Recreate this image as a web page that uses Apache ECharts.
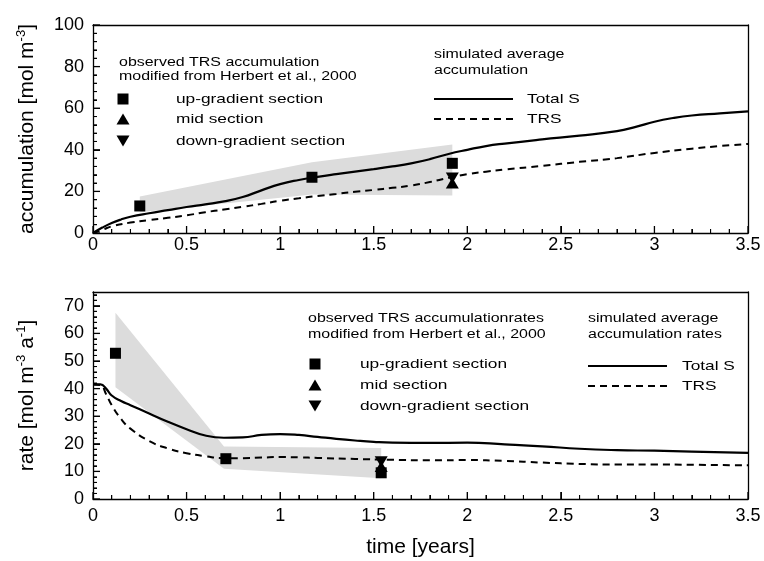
<!DOCTYPE html>
<html><head><meta charset="utf-8">
<script src="https://cdn.jsdelivr.net/npm/echarts@6/dist/echarts.min.js"></script>
<style>html,body{margin:0;padding:0;background:#fff}#c{width:764px;height:561px}</style>
</head><body><div id="c"></div>
<script>
// ---------- data ----------
const xTickValues = [0, 0.5, 1, 1.5, 2, 2.5, 3, 3.5];
const accTicks = [0, 20, 40, 60, 80, 100];
const rateTicks = [0, 10, 20, 30, 40, 50, 60, 70];

// top panel: accumulation [mol m-3]
const accTotalS = [[0,0],[0.05,2.6],[0.1,4.8],[0.15,6.5],[0.2,7.8],[0.3,9.5],[0.4,11],[0.5,12.5],[0.6,13.8],[0.7,15.2],[0.8,17.3],[0.9,20.5],[1.0,23.5],[1.1,25.5],[1.2,27],[1.3,28.3],[1.4,29.5],[1.5,30.7],[1.6,32],[1.7,33.5],[1.8,35.5],[1.9,38],[2.0,40],[2.1,41.8],[2.2,43],[2.4,45],[2.6,46.8],[2.8,49],[2.9,51],[3.0,53.5],[3.1,55.3],[3.2,56.5],[3.35,57.5],[3.5,58.5]];
const accTRS = [[0,0],[0.05,1.5],[0.1,3.2],[0.2,5],[0.3,6.2],[0.4,7.3],[0.5,8.5],[0.6,10],[0.7,11.3],[0.8,12.6],[0.9,14],[1.0,15.5],[1.1,16.7],[1.2,17.8],[1.3,18.8],[1.4,19.8],[1.5,20.7],[1.6,21.7],[1.7,22.8],[1.8,24.5],[1.9,26.5],[2.0,28.3],[2.1,29.5],[2.2,30.5],[2.4,32.3],[2.6,34.2],[2.8,36],[3.0,38.5],[3.2,40.5],[3.35,41.8],[3.5,42.8]];
const accUp = [[0.25,13],[1.17,26.8],[1.92,33.5]];
const accMid = [[1.92,24]];
const accDown = [[1.92,26.5]];
const accBandUpper = [[0.25,17.5],[1.17,34],[1.92,42.5]];
const accBandLower = [[0.25,10],[1.17,18.5],[1.92,18]];

// bottom panel: rate [mol m-3 a-1]
const rateTotalS = [[0,41.5],[0.04,41.5],[0.07,40],[0.1,37.5],[0.15,35.5],[0.2,34],[0.3,31],[0.4,28],[0.5,25.3],[0.6,23],[0.7,22.2],[0.8,22.3],[0.9,23.2],[1.0,23.5],[1.1,23.2],[1.2,22.5],[1.3,21.8],[1.4,21.2],[1.5,20.7],[1.6,20.4],[1.8,20.3],[2.0,20.4],[2.2,19.8],[2.4,19.1],[2.6,18.2],[2.8,17.7],[3.0,17.5],[3.2,17.2],[3.5,16.7]];
const rateTRS = [[0,41.5],[0.04,41.3],[0.07,38],[0.1,34],[0.15,29],[0.2,25.5],[0.3,21],[0.4,18.3],[0.5,16.6],[0.6,15.5],[0.7,14.8],[0.8,14.8],[0.9,15],[1.0,15.2],[1.1,15.1],[1.2,14.9],[1.4,14.5],[1.6,14.2],[1.8,14],[2.0,14.1],[2.2,13.8],[2.4,13.2],[2.6,12.7],[2.8,12.5],[3.0,12.5],[3.2,12.4],[3.5,12.2]];
const rateUp = [[0.12,52.8],[0.71,14.6],[1.54,9.5]];
const rateMid = [[1.54,11.8]];
const rateDown = [[1.54,13.5]];
const rateBandUpper = [[0.12,67.5],[0.70,19],[1.54,18.5]];
const rateBandLower = [[0.12,40.5],[0.70,11],[1.54,7.5]];

// ---------- styling ----------
const FONT = '"Liberation Sans", Arial, Helvetica, sans-serif';
const BLACK = '#000';
const SX = 1.33;

const TICKS = {
  axisTick: {show: true, inside: true, length: 7, lineStyle: {color: BLACK}},
  minorTick: {show: true, splitNumber: 5, length: 4, lineStyle: {color: BLACK}}
};
function xAxis(gi, withName) {
  return Object.assign({
    type: 'value', gridIndex: gi, position: 'bottom', min: 0, max: 3.5, interval: 0.5,
    axisLine: {show: true, onZero: false, lineStyle: {color: BLACK, width: 1.3}},
    splitLine: {show: false}, minorSplitLine: {show: false},
    axisLabel: {show: true, color: BLACK, fontSize: 18, fontFamily: FONT, margin: gi === 0 ? 3 : 8},
    name: withName ? 'time [years]' : '', nameLocation: 'middle', nameGap: 38, nameMoveOverlap: false,
    nameTextStyle: {color: BLACK, fontSize: 21, fontFamily: FONT}
  }, TICKS);
}
function yAxis(gi, max, ticks, name) {
  return Object.assign({
    type: 'value', gridIndex: gi, position: 'left', min: 0, max: max, interval: ticks[1] - ticks[0],
    axisLine: {show: true, onZero: false, lineStyle: {color: BLACK, width: 1.3}},
    splitLine: {show: false}, minorSplitLine: {show: false},
    axisLabel: {show: true, color: BLACK, fontSize: 18, fontFamily: FONT, margin: 9, showMaxLabel: ticks.indexOf(max) >= 0},
    name: name, nameLocation: 'middle', nameGap: 54, nameMoveOverlap: false,
    nameTextStyle: {color: BLACK, rich: {
      a: {fontSize: 21, fontFamily: FONT, color: BLACK},
      s: {fontSize: 13, fontFamily: FONT, color: BLACK, padding: [0, 0, 11, 0]}
    }}
  }, TICKS);
}
function frameX(gi) {
  return {type: 'value', gridIndex: gi, position: 'top', min: 0, max: 3.5, interval: 0.5,
    axisLine: {show: true, onZero: false, lineStyle: {color: BLACK, width: 1.3}},
    axisTick: {show: false}, minorTick: {show: false}, axisLabel: {show: false}, splitLine: {show: false}};
}
function frameY(gi, max, step) {
  return {type: 'value', gridIndex: gi, position: 'right', min: 0, max: max, interval: step,
    axisLine: {show: true, onZero: false, lineStyle: {color: BLACK, width: 1.3}},
    axisTick: {show: false}, minorTick: {show: false}, axisLabel: {show: false}, splitLine: {show: false}};
}
// inward tick marks as thin rect symbols placed through the axes' scales
function tickMarks(gi, xMajor, yMajor, yMax, yMinorStep) {
  const xMaj = xMajor.map(v => [v, 0]);
  const xMin = [];
  for (let i = 0; i < xMajor.length - 1; i++) for (let k = 1; k < 5; k++) xMin.push([+(xMajor[i] + k * 0.1).toFixed(2), 0]);
  const yMaj = yMajor.map(v => [0, v]);
  const yMin = [];
  for (let v = yMinorStep; v < yMax; v += yMinorStep) if (yMajor.indexOf(v) < 0) yMin.push([0, v]);
  const base = {type: 'scatter', xAxisIndex: gi * 2, yAxisIndex: gi * 2, symbol: 'rect', z: 8, silent: true, clip: false,
    itemStyle: {color: BLACK, opacity: 1}};
  return [
    Object.assign({}, base, {data: xMaj, symbolSize: [1.3, 7], symbolOffset: [0, -3.5]}),
    Object.assign({}, base, {data: xMin, symbolSize: [1.1, 4], symbolOffset: [0, -2]}),
    Object.assign({}, base, {data: yMaj, symbolSize: [7, 1.3], symbolOffset: [3.5, 0]}),
    Object.assign({}, base, {data: yMin, symbolSize: [4, 1.1], symbolOffset: [2, 0]})
  ];
}
function lineSeries(name, gi, data, dashed) {
  return {type: 'line', name: name, xAxisIndex: gi * 2, yAxisIndex: gi * 2, data: data,
    symbol: 'none', showSymbol: false, smooth: 0.5, z: 3, silent: true,
    lineStyle: {color: BLACK, width: dashed ? 2 : 2.2, type: dashed ? [7, 5] : 'solid'}};
}
function scatterSeries(name, gi, data, kind) {
  const s = {type: 'scatter', name: name, xAxisIndex: gi * 2, yAxisIndex: gi * 2, data: data, z: 5, silent: true,
    itemStyle: {color: BLACK, opacity: 1}};
  if (kind === 'rect') { s.symbol = 'rect'; s.symbolSize = 11; }
  else if (kind === 'up') { s.symbol = 'triangle'; s.symbolSize = [13, 11]; }
  else { s.symbol = 'triangle'; s.symbolRotate = 180; s.symbolSize = [13, 11]; }
  return s;
}
function bandSeries(gi, upper, lower) {
  const poly = upper.concat(lower.slice().reverse());
  return {type: 'custom', xAxisIndex: gi * 2, yAxisIndex: gi * 2, data: poly, z: 1, silent: true,
    encode: {x: 0, y: 1},
    renderItem: function (params, api) {
      if (params.dataIndex !== 0) return null;
      return {type: 'polygon', shape: {points: poly.map(p => api.coord(p))}, style: {fill: '#dcdcdc'}};
    }};
}

// ---------- legends drawn as graphics ----------
function txt(x, y, s, size) {
  return {type: 'text', x: x, y: y, scaleX: SX, silent: true,
    style: {text: s, font: size + 'px ' + FONT, fill: BLACK, textAlign: 'left', textVerticalAlign: 'middle'}};
}
function sq(cx, cy) { return {type: 'rect', silent: true, shape: {x: cx - 5.5, y: cy - 5.5, width: 11, height: 11}, style: {fill: BLACK}}; }
function triUp(cx, cy) { return {type: 'polygon', silent: true, shape: {points: [[cx - 6.5, cy + 5.5], [cx + 6.5, cy + 5.5], [cx, cy - 5.5]]}, style: {fill: BLACK}}; }
function triDown(cx, cy) { return {type: 'polygon', silent: true, shape: {points: [[cx - 6.5, cy - 5.5], [cx + 6.5, cy - 5.5], [cx, cy + 5.5]]}, style: {fill: BLACK}}; }
function seg(x1, x2, y, dashed) {
  return {type: 'line', silent: true, shape: {x1: x1, y1: y, x2: x2, y2: y},
    style: {stroke: BLACK, lineWidth: dashed ? 2 : 2.2, lineDash: dashed ? [7, 5] : null}};
}
function legendBlock(o) {
  const els = [];
  els.push(txt(o.lx, o.h1, o.head[0], 12), txt(o.lx, o.h2, o.head[1], 12));
  els.push(sq(o.mx, o.r[0]), triUp(o.mx, o.r[1]), triDown(o.mx, o.r[2]));
  els.push(txt(o.tx, o.r[0], 'up-gradient section', 13), txt(o.tx, o.r[1], 'mid section', 13), txt(o.tx, o.r[2], 'down-gradient section', 13));
  els.push(txt(o.rx, o.rh1, o.rhead[0], 12), txt(o.rx, o.rh2, o.rhead[1], 12));
  els.push(seg(o.rx, o.rx + 79, o.l[0], false), seg(o.rx, o.rx + 79, o.l[1], true));
  els.push(txt(o.rtx, o.l[0], 'Total S', 13), txt(o.rtx, o.l[1], 'TRS', 13));
  return els;
}
const graphics = [].concat(
  legendBlock({lx: 119, h1: 63, h2: 77, head: ['observed TRS accumulation', 'modified from Herbert et al., 2000'],
    mx: 123, tx: 176, r: [99, 119, 141],
    rx: 434, rh1: 55, rh2: 71, rhead: ['simulated average', 'accumulation'], l: [99, 119], rtx: 527}),
  legendBlock({lx: 308, h1: 319, h2: 335, head: ['observed TRS accumulationrates', 'modified from Herbert et al., 2000'],
    mx: 315, tx: 360, r: [364, 385, 406],
    rx: 588, rh1: 319, rh2: 335, rhead: ['simulated average', 'accumulation rates'], l: [366, 386], rtx: 682})
);

const chart = echarts.init(document.getElementById('c'), null, {renderer: 'canvas'});
chart.setOption({
  animation: false,
  backgroundColor: '#fff',
  grid: [
    {left: 93, top: 25, width: 655, height: 208, show: false, containLabel: false, outerBoundsMode: 'none'},
    {left: 93, top: 292, width: 655, height: 207, show: false, containLabel: false, outerBoundsMode: 'none'}
  ],
  xAxis: [xAxis(0, false), frameX(0), xAxis(1, true), frameX(1)],
  yAxis: [
    yAxis(0, 100, accTicks, '{a|accumulation [mol m}{s|-3}{a|]}'), frameY(0, 100, 20),
    yAxis(1, 75, rateTicks, '{a|rate [mol m}{s|-3}{a| a}{s|-1}{a|]}'), frameY(1, 75, 10)
  ],
  series: [
    bandSeries(0, accBandUpper, accBandLower),
    lineSeries('Total S', 0, accTotalS, false),
    lineSeries('TRS', 0, accTRS, true),
    scatterSeries('up-gradient section', 0, accUp, 'rect'),
    scatterSeries('down-gradient section', 0, accDown, 'down'),
    scatterSeries('mid section', 0, accMid, 'up'),
    bandSeries(1, rateBandUpper, rateBandLower),
    lineSeries('Total S', 1, rateTotalS, false),
    lineSeries('TRS', 1, rateTRS, true),
    scatterSeries('up-gradient section', 1, rateUp, 'rect'),
    scatterSeries('down-gradient section', 1, rateDown, 'down'),
    scatterSeries('mid section', 1, rateMid, 'up')
  ].concat(tickMarks(0, xTickValues, accTicks, 100, 4), tickMarks(1, xTickValues, rateTicks, 75, 2)),
  graphic: graphics
});
</script></body></html>
